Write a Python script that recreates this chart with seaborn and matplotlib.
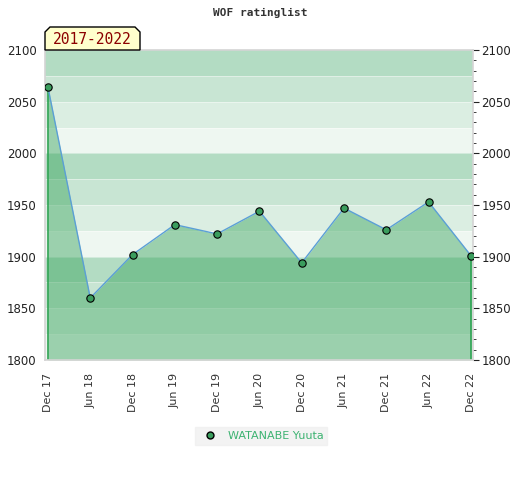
import matplotlib
matplotlib.use("Agg")
import matplotlib.pyplot as plt
import seaborn as sns
import numpy as np
import pandas as pd
from matplotlib.patches import Polygon
from matplotlib.lines import Line2D

# data
dates = ['Dec 17', 'Jun 18', 'Dec 18', 'Jun 19', 'Dec 19', 'Jun 20',
         'Dec 20', 'Jun 21', 'Dec 21', 'Jun 22', 'Dec 22']
rating = [2064, 1860, 1902, 1931, 1922, 1944, 1894, 1947, 1926, 1953, 1901]
player = 'WATANABE Yuuta'
period = '2017-2022'
y_min, y_max = 1800, 2100

df = pd.DataFrame({'pos': np.arange(len(dates)), 'rating': rating})

sns.set_style('white')
plt.rcParams['font.family'] = ['DejaVu Sans']

fig = plt.figure(figsize=(5.2, 4.8), dpi=100)
ax = fig.add_axes([45 / 520, 1 - 360 / 480, 428 / 520, 310 / 480])

# horizontal bands, repeating every 100 points
band_cols = ['#eef7f1', '#dbeee2', '#c8e5d3', '#b3dcc3']
for lo in range(y_min, y_max, 25):
    ax.axhspan(lo, lo + 25, color=band_cols[(lo // 25) % 4], lw=0, zorder=0)
    ax.axhline(lo, color='white', lw=0.6, alpha=0.5, zorder=0.5)

# filled area under the rating line
ax.fill_between(df['pos'], df['rating'], y_min, color='#3aa45d', alpha=0.46,
                lw=0, zorder=1)
ax.vlines([df['pos'].iloc[0], df['pos'].iloc[-1]], y_min,
          [df['rating'].iloc[0], df['rating'].iloc[-1]],
          color='#2ea352', lw=1.2, zorder=2)

sns.lineplot(data=df, x='pos', y='rating', ax=ax, color='#5b9fd6', lw=1,
             zorder=3)
sns.scatterplot(data=df, x='pos', y='rating', ax=ax, color='#3a9d5d',
                edgecolor='black', linewidth=0.8, s=28, zorder=4)

ax.set_xlim(-0.07, len(dates) - 1 + 0.05)
ax.set_ylim(y_min, y_max)
ax.set_xlabel('')
ax.set_ylabel('')
ax.set_xticks(df['pos'])
ax.set_xticklabels(dates, rotation=90, fontsize=8, color='#333333')

ax.set_yticks(range(y_min, y_max + 1, 50))
ax.tick_params(axis='y', which='both', left=False, right=True,
               labelleft=True, labelright=True, labelsize=8.5,
               labelcolor='#222222', direction='out', pad=2)
ax.tick_params(axis='y', which='major', length=4, color='#222222')
ax.set_yticks(range(y_min, y_max + 1, 10), minor=True)
ax.tick_params(axis='y', which='minor', length=2.5, color='#222222')
ax.tick_params(axis='x', length=0, pad=9)

for sp in ax.spines.values():
    sp.set_color('#d4d4d4')
    sp.set_linewidth(1.2)

fig.text(260 / 520, 1 - 13 / 480, 'WOF ratinglist', ha='center', va='center',
         fontsize=8, fontweight='bold', family='DejaVu Sans Mono',
         color='#333333')

# period label box with chamfered top corners
W, H = 520.0, 480.0
box = [(45, 50), (45, 32), (50, 27), (135, 27), (140, 32), (140, 50)]
fig.patches.append(Polygon([(px / W, 1 - py / H) for px, py in box],
                           closed=True, transform=fig.transFigure,
                           facecolor='#ffffcc', edgecolor='black', lw=1,
                           zorder=5))
fig.text(92 / W, 1 - 40 / H, period, ha='center', va='center', fontsize=10.5,
         family='DejaVu Sans Mono', color='#8b0000', zorder=6)

handle = Line2D([], [], marker='o', ls='none', markerfacecolor='#3a9d5d',
                markeredgecolor='black', markersize=5)
leg = fig.legend([handle], [player], loc='center', bbox_to_anchor=(261 / W, 1 - 436 / H),
                 frameon=True, fontsize=8, handletextpad=0.6,
                 borderpad=0.35, fancybox=False)
leg.get_frame().set_facecolor('#f0f0f0')
leg.get_frame().set_edgecolor('#f0f0f0')
for t in leg.get_texts():
    t.set_color('#3cb371')

fig.savefig('out.png', dpi=100)
